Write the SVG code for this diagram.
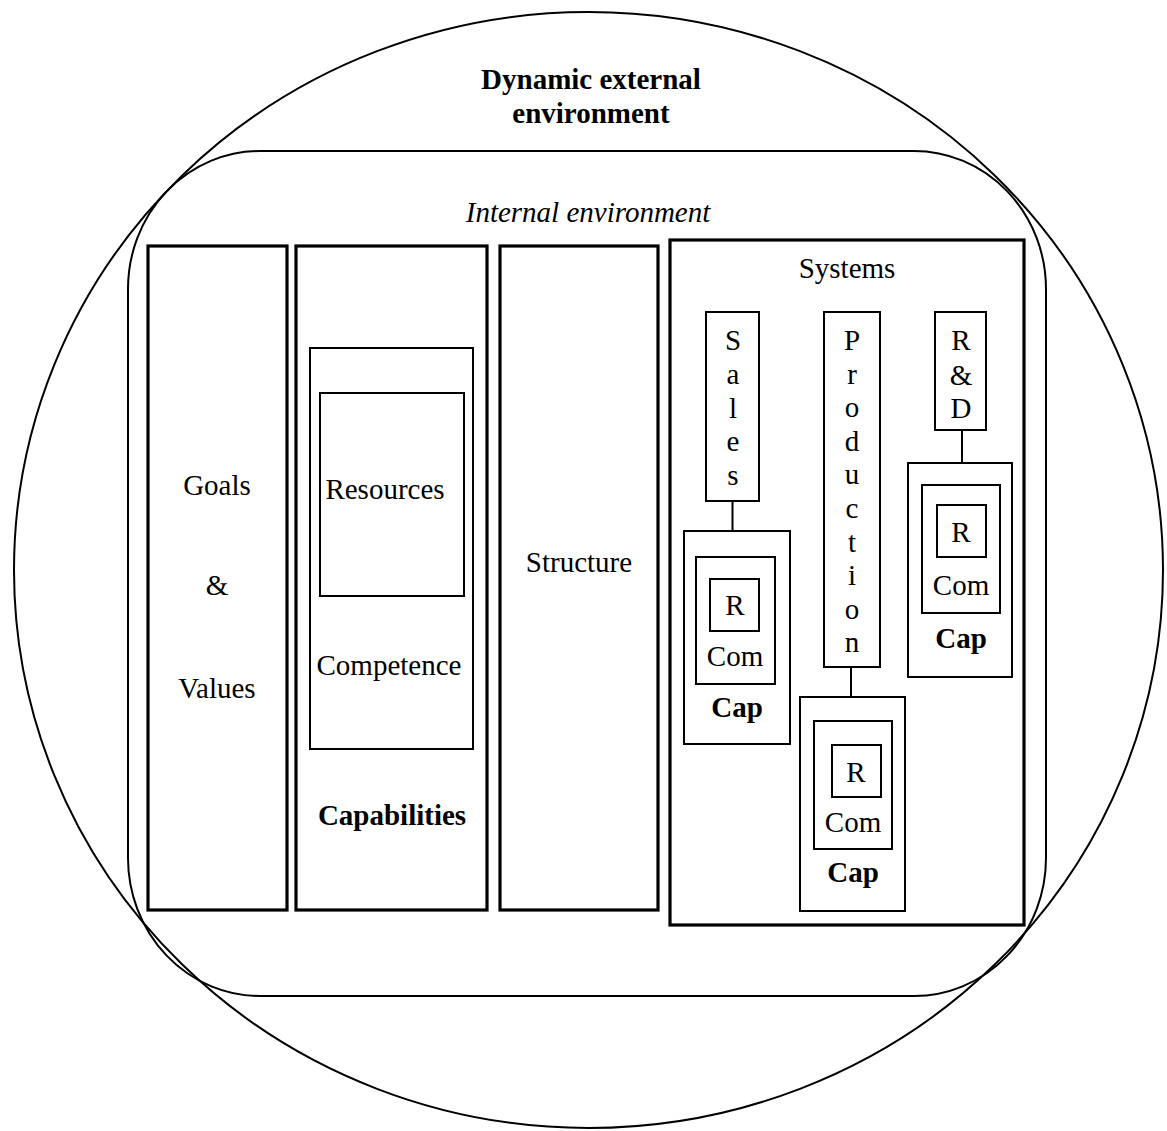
<svg xmlns="http://www.w3.org/2000/svg" width="1167" height="1131" viewBox="0 0 1167 1131">
  <style>
    .bg { fill: #ffffff; }
    .env { fill: none; stroke: #000; stroke-width: 2; }
    .thick { fill: none; stroke: #000; stroke-width: 3.2; }
    .thin { fill: none; stroke: #000; stroke-width: 2; }
    .link { stroke: #000; stroke-width: 2; fill: none; }
    text { font-family: "Liberation Serif", "Times New Roman", serif; font-size: 29px; fill: #000; text-anchor: middle; }
    .b { font-weight: bold; }
    .i { font-style: italic; }
  </style>

  <rect class="bg" x="0" y="0" width="1167" height="1131"/>

  <!-- external environment -->
  <g id="external-environment">
    <ellipse class="env" cx="588.5" cy="570" rx="574.5" ry="558"/>
    <text class="b" x="591" y="89">Dynamic external</text>
    <text class="b" x="591" y="123">environment</text>
  </g>

  <!-- internal environment -->
  <g id="internal-environment">
    <rect class="env" x="128" y="151" width="918" height="845" rx="132" ry="138"/>
    <text class="i" x="588" y="222">Internal environment</text>
  </g>

  <!-- goals & values -->
  <g id="goals-values">
    <rect class="thick" x="148" y="246" width="139" height="664"/>
    <text x="217" y="495">Goals</text>
    <text x="217" y="595">&amp;</text>
    <text x="217" y="698">Values</text>
  </g>

  <!-- capabilities -->
  <g id="capabilities">
    <rect class="thick" x="296" y="246" width="191" height="664"/>
    <rect class="thin" x="310" y="348" width="163" height="401"/>
    <rect class="thin" x="320" y="393" width="144" height="203"/>
    <text x="385" y="499">Resources</text>
    <text x="389" y="675">Competence</text>
    <text class="b" x="392" y="825">Capabilities</text>
  </g>

  <!-- structure -->
  <g id="structure">
    <rect class="thick" x="500" y="246" width="158" height="664"/>
    <text x="579" y="572">Structure</text>
  </g>

  <!-- systems -->
  <g id="systems">
    <rect class="thick" x="670" y="240" width="354" height="685"/>
    <text x="847" y="278">Systems</text>
  </g>

  <!-- sales system -->
  <g id="sales">
    <rect class="thin" x="706" y="312" width="53" height="189"/>
    <text x="733" y="350">S</text>
    <text x="733" y="384">a</text>
    <text x="733" y="418">l</text>
    <text x="733" y="451">e</text>
    <text x="733" y="485">s</text>
  </g>
  <g id="sales-cap">
    <rect class="thin" x="684" y="531" width="106" height="213"/>
    <rect class="thin" x="696" y="557" width="79" height="127"/>
    <rect class="thin" x="710" y="579" width="49" height="52"/>
    <text x="735" y="615">R</text>
    <text x="735" y="666">Com</text>
    <text class="b" x="737" y="717">Cap</text>
  </g>

  <!-- production system -->
  <g id="production">
    <rect class="thin" x="824" y="312" width="56" height="355"/>
    <text x="852" y="350">P</text>
    <text x="852" y="384">r</text>
    <text x="852" y="417">o</text>
    <text x="852" y="451">d</text>
    <text x="852" y="484">u</text>
    <text x="852" y="518">c</text>
    <text x="852" y="552">t</text>
    <text x="852" y="585">i</text>
    <text x="852" y="619">o</text>
    <text x="852" y="652">n</text>
  </g>
  <g id="production-cap">
    <rect class="thin" x="800" y="697" width="105" height="214"/>
    <rect class="thin" x="814" y="721" width="78" height="128"/>
    <rect class="thin" x="832" y="745" width="49" height="52"/>
    <text x="856" y="782">R</text>
    <text x="853" y="832">Com</text>
    <text class="b" x="853" y="882">Cap</text>
  </g>

  <!-- R&D system -->
  <g id="rnd">
    <rect class="thin" x="935" y="312" width="51" height="118"/>
    <text x="961" y="350">R</text>
    <text x="961" y="385">&amp;</text>
    <text x="961" y="418">D</text>
  </g>
  <g id="rnd-cap">
    <rect class="thin" x="908" y="463" width="104" height="214"/>
    <rect class="thin" x="922" y="485" width="78" height="128"/>
    <rect class="thin" x="937" y="505" width="49" height="52"/>
    <text x="961" y="542">R</text>
    <text x="961" y="595">Com</text>
    <text class="b" x="961" y="648">Cap</text>
  </g>

  <!-- links from each system to its capability block -->
  <g id="connectors">
    <line class="link" x1="732.5" y1="501" x2="732.5" y2="531"/>
    <line class="link" x1="851" y1="667" x2="851" y2="697"/>
    <line class="link" x1="962" y1="430" x2="962" y2="463"/>
  </g>
</svg>
